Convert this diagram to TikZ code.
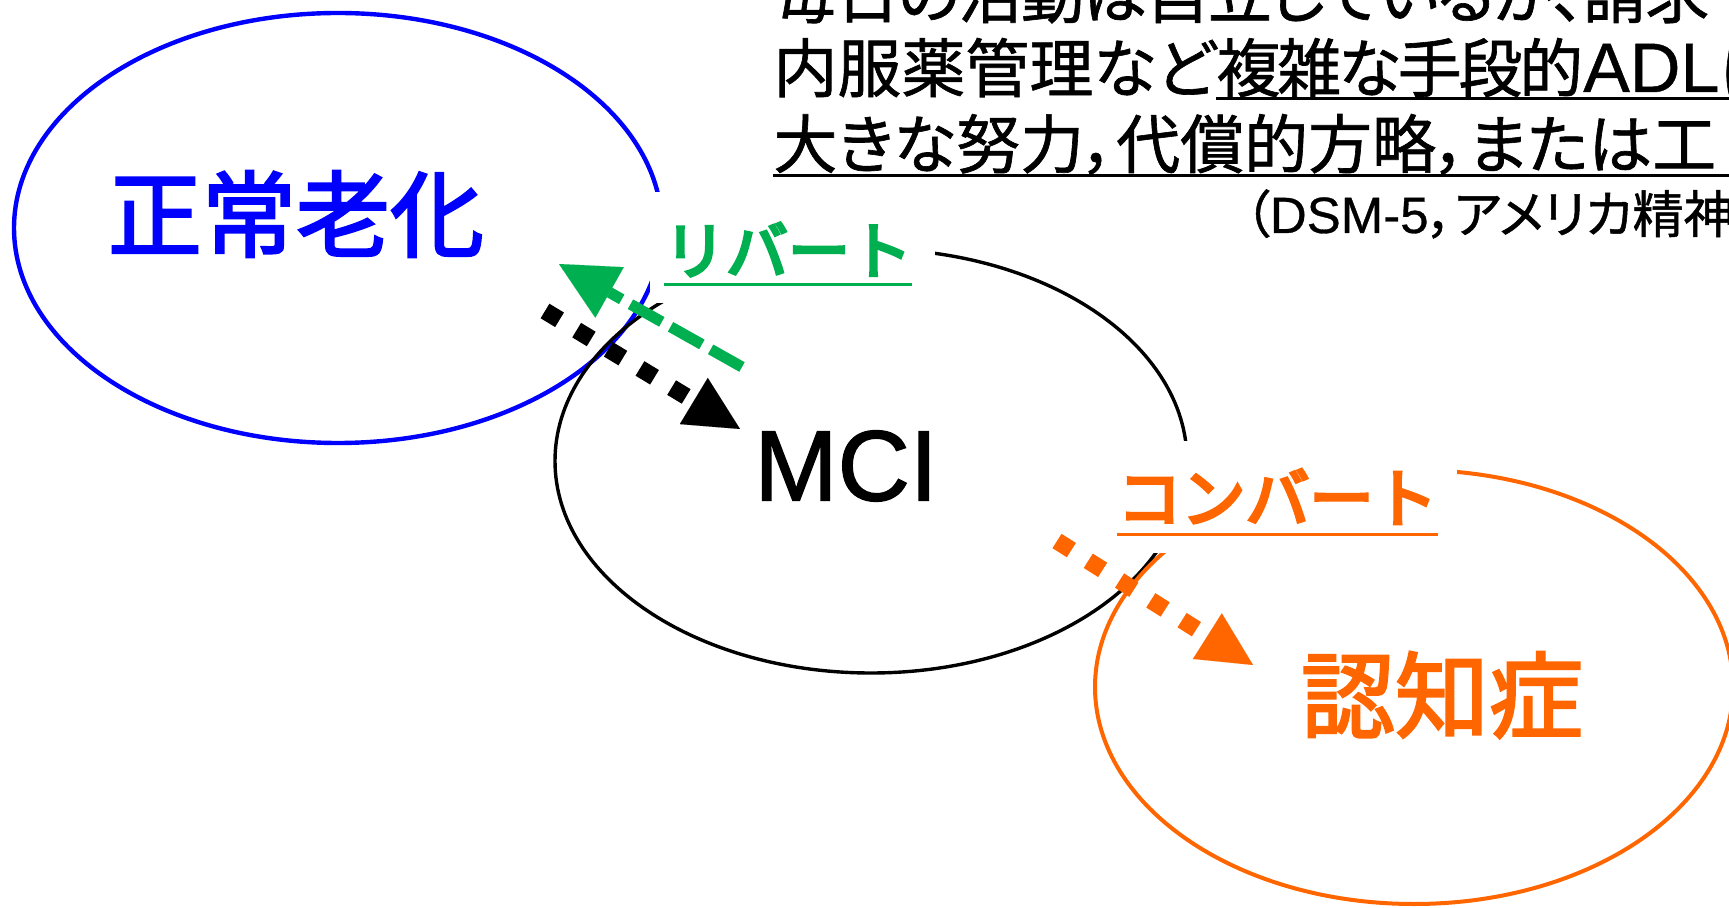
\documentclass[tikz,border=0pt]{standalone}
\usepackage{fontspec}
\setmainfont{Noto Sans CJK JP}
\newfontfamily\jpfont{Noto Sans CJK JP}[FakeBold=2.5]
\newfontfamily\jplblfont{Noto Sans CJK JP}[FakeBold=5]
\newfontfamily\jppfont{Noto Sans CJK JP}[RawFeature=+palt,FakeBold=1]
\newfontfamily\jppnarrow{Noto Sans CJK JP}[RawFeature=+palt,FakeBold=1,LetterSpace=-5]
\newfontfamily\jpplinefont{Noto Sans CJK JP}[RawFeature=+palt,FakeBold=1,LetterSpace=-2.5]
\newfontfamily\latfont{Liberation Sans}[FakeBold=1.5]
\newfontfamily\lattopfont{Liberation Sans}[FakeBold=0.6]
\usetikzlibrary{arrows.meta,shapes.geometric}
\definecolor{cgreen}{RGB}{0,176,80}
\definecolor{corange}{RGB}{255,102,0}
\definecolor{cblue}{RGB}{0,0,255}
\tikzset{
  oval/.style={ellipse, inner sep=0pt},
  maskbox/.style={rectangle, fill=white, draw=none, inner sep=0pt},
  lbltext/.style={inner sep=0pt, font=\jplblfont\fontsize{31pt}{36pt}\selectfont},
  bigtext/.style={inner sep=0pt, font=\jpfont\fontsize{47pt}{54pt}\selectfont},
  toptext/.style={inner sep=0pt, anchor=base west, font=\jppfont\fontsize{32pt}{38pt}\selectfont},
  srctext/.style={inner sep=0pt, anchor=base west, font=\jppfont\fontsize{25.5pt}{30pt}\selectfont},
  uline/.style={line width=1.5pt},
  dotarrow/.style={line width=8.5pt, dash pattern=on 8.5pt off 10pt, -{Triangle[length=27pt,width=27pt,line width=0.01pt]}},
  dasharrow/.style={line width=5.5pt, dash pattern=on 18pt off 5pt, -{Triangle[length=29pt,width=29pt,line width=0.01pt]}},
}
\begin{document}
\begin{tikzpicture}[x=0.5pt,y=-0.5pt]
\useasboundingbox (0,0) rectangle (1729,908);
\clip (0,0) rectangle (1729,908);
% ellipses
\node[oval, draw=cblue, line width=2.2pt, minimum width=324pt, minimum height=215pt] (normal) at (338,228) {};
\node[oval, draw=black, line width=1.7pt, minimum width=316pt, minimum height=212pt] (mci) at (871,461) {};
\node[oval, draw=corange, line width=2pt, minimum width=319pt, minimum height=217pt] (dementia) at (1414,687) {};
% white label boxes
\node[maskbox, minimum width=142.5pt, minimum height=55.5pt] (rbbox) at (792.5,247.5) {};
\node[maskbox, minimum width=178pt, minimum height=56pt] (cvbox) at (1279,497) {};
% ellipse texts
\node[bigtext, text=cblue] (normaltext) at (296,214) {正常老化};
\node[inner sep=0pt, font=\latfont\fontsize{50pt}{60pt}\selectfont] (mcitext) at (846,466) {MCI};
\node[bigtext, text=corange] (dementiatext) at (1442,695) {認知症};
% labels
\node[lbltext, text=cgreen] (rb) at (788,249.5) {リバート};
\draw[uline, cgreen] (rb.west |- 0,285) -- (rb.east |- 0,285);
\node[lbltext, text=corange, font=\jplblfont\fontsize{32pt}{38pt}\selectfont] (cv) at (1277.5,496.5) {コンバート};
\draw[uline, corange] (cv.west |- 0,535) -- (cv.east |- 0,535);
% top text
\node[toptext, font=\jpplinefont\fontsize{32pt}{38pt}\selectfont] (t1) at (773,18) {毎日の活動は自立しているが、請求};
\node[toptext] (t2a) at (773,92) {内服薬管理など};
\node[toptext] (t2b) at (t2a.base east) {{\jppnarrow 複雑な手段的}{\lattopfont\fontsize{35pt}{38pt}\selectfont ADL}に};
\node[toptext] (t3) at (773,168) {大きな努力，代償的方略，または工};
\node[srctext] (t4) at (1244,233) {（{\lattopfont DSM-5}，アメリカ精神};
\draw[uline] (t2b.west |- 0,99) -- (1729,99);
\draw[uline] (t3.west |- 0,176) -- (1729,176);
% arrows
\coordinate (a1s) at (545,311);
\coordinate (a1e) at (740,429);
\draw[dotarrow, black] (a1s) -- (a1e);
\coordinate (a2s) at (742,367);
\coordinate (a2e) at (559,264);
\draw[dasharrow, cgreen] (a2s) -- (a2e);
\coordinate (a3s) at (1057,541);
\coordinate (a3e) at (1253,665);
\draw[dotarrow, corange] (a3s) -- (a3e);
\end{tikzpicture}
\end{document}
